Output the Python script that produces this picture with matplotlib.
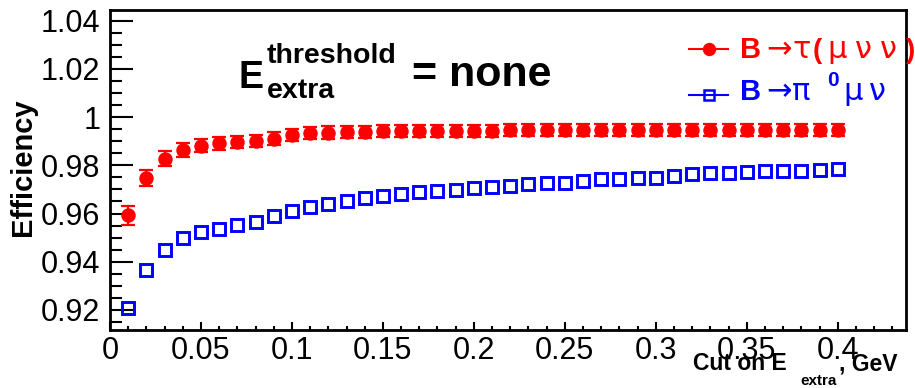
import matplotlib.pyplot as plt
from matplotlib.lines import Line2D
from matplotlib.ticker import MultipleLocator, FuncFormatter

plt.rcParams['font.family'] = ['Liberation Sans', 'DejaVu Sans']

W, H = 915, 388
RED = '#ff0000'
BLUE = '#0000ff'

# cut on E_extra (GeV)
cut = [0.01, 0.02, 0.03, 0.04, 0.05, 0.06, 0.07, 0.08, 0.09, 0.10,
       0.11, 0.12, 0.13, 0.14, 0.15, 0.16, 0.17, 0.18, 0.19, 0.20,
       0.21, 0.22, 0.23, 0.24, 0.25, 0.26, 0.27, 0.28, 0.29, 0.30,
       0.31, 0.32, 0.33, 0.34, 0.35, 0.36, 0.37, 0.38, 0.39, 0.40]

# B -> tau(mu nu nu)
eff_tau = [0.9593, 0.9749, 0.9828, 0.9864, 0.9881, 0.9892, 0.9897, 0.9901, 0.9911, 0.9925,
           0.9932, 0.9936, 0.9939, 0.9940, 0.9942, 0.9942, 0.9943, 0.9943, 0.9944, 0.9944,
           0.9944, 0.9945, 0.9945, 0.9945, 0.9946, 0.9946, 0.9946, 0.9946, 0.9947, 0.9947,
           0.9947, 0.9947, 0.9947, 0.9947, 0.9948, 0.9948, 0.9948, 0.9948, 0.9948, 0.9948]
err_tau = [0.0040, 0.0033, 0.0030, 0.0028, 0.0027, 0.0027, 0.0026, 0.0026, 0.0026, 0.0026,
           0.0025, 0.0025, 0.0025, 0.0025, 0.0025, 0.0025, 0.0025, 0.0025, 0.0025, 0.0025,
           0.0025, 0.0025, 0.0025, 0.0025, 0.0025, 0.0025, 0.0025, 0.0025, 0.0025, 0.0025,
           0.0025, 0.0025, 0.0025, 0.0025, 0.0025, 0.0025, 0.0025, 0.0025, 0.0025, 0.0025]

# B -> pi0 mu nu
eff_pi0 = [0.9207, 0.9367, 0.9450, 0.9499, 0.9522, 0.9536, 0.9554, 0.9564, 0.9589, 0.9610,
           0.9626, 0.9638, 0.9651, 0.9663, 0.9672, 0.9679, 0.9689, 0.9693, 0.9697, 0.9704,
           0.9711, 0.9716, 0.9721, 0.9728, 0.9728, 0.9735, 0.9742, 0.9745, 0.9749, 0.9749,
           0.9755, 0.9763, 0.9769, 0.9769, 0.9772, 0.9776, 0.9776, 0.9776, 0.9780, 0.9783]

fig = plt.figure(figsize=(W / 100, H / 100), dpi=100)
ax = fig.add_axes([110 / W, 1 - 330 / H, 796 / W, 320 / H])

ax.errorbar(cut, eff_tau, yerr=err_tau, fmt='o', color=RED, ms=9.4,
            elinewidth=1.6, capsize=5, capthick=1.6, zorder=3)
ax.plot(cut, eff_pi0, 's', ls='none', mfc='none', mec=BLUE, mew=2.1, ms=8.6, zorder=3)

ax.set_xlim(0, 0.4375)
ax.set_ylim(0.9117, 1.0444)

ax.xaxis.set_major_locator(MultipleLocator(0.05))
ax.xaxis.set_minor_locator(MultipleLocator(0.01))
ax.yaxis.set_major_locator(MultipleLocator(0.02))
ax.yaxis.set_minor_locator(MultipleLocator(0.005))
fmt = FuncFormatter(lambda v, p: '%g' % round(v, 4))
ax.xaxis.set_major_formatter(fmt)
ax.yaxis.set_major_formatter(fmt)

ax.tick_params(axis='both', which='both', direction='in', width=1.5, labelsize=22)
ax.tick_params(axis='y', which='major', length=16.5, pad=7)
ax.tick_params(axis='y', which='minor', length=8.6)
ax.tick_params(axis='x', which='major', length=5.8, pad=4)
ax.tick_params(axis='x', which='minor', length=2.9)
for s in ax.spines.values():
    s.set_linewidth(2)


def put(x, y, s, size, color='black', weight='bold', family=None, **kw):
    fig.text(x / W, 1 - y / H, s, fontsize=size, color=color, fontweight=weight,
             family=family or ['Liberation Sans', 'DejaVu Sans'],
             ha='left', va='baseline', **kw)


greek = ['DejaVu Sans']

# annotation
put(238, 88, 'E', 27)
put(267, 63, 'threshold', 20.5)
put(267, 98, 'extra', 20.5)
put(412, 86, '= none', 31)

# legend
fig.add_artist(Line2D([689 / W, 728 / W], [1 - 49 / H] * 2, color=RED, lw=1.5,
                      transform=fig.transFigure))
fig.add_artist(Line2D([709 / W], [1 - 49 / H], color=RED, marker='o', ms=8.6, ls='none',
                      transform=fig.transFigure))
put(740, 58, 'B', 21, RED)
put(766, 58, '\u2192', 22, RED, weight='normal', family=greek)
put(792, 58, '\u03c4', 22, RED, weight='normal', family=greek)
put(813, 58, '(', 20, RED)
put(827, 58, '\u03bc', 22, RED, weight='normal', family=greek)
put(855, 58, '\u03bd', 22, RED, weight='normal', family=greek)
put(880, 58, '\u03bd', 22, RED, weight='normal', family=greek)
put(906, 58, ')', 20, RED)

fig.add_artist(Line2D([689 / W, 728 / W], [1 - 95 / H] * 2, color=BLUE, lw=1.5,
                      transform=fig.transFigure))
fig.add_artist(Line2D([709 / W], [1 - 95 / H], color=BLUE, marker='s', ms=7.5, mew=1.8,
                      mfc='none', ls='none', transform=fig.transFigure))
put(740, 100, 'B', 21, BLUE)
put(766, 100, '\u2192', 22, BLUE, weight='normal', family=greek)
put(792, 100, '\u03c0', 22, BLUE, weight='normal', family=greek)
put(827, 86, '0', 15, BLUE)
put(843, 100, '\u03bc', 22, BLUE, weight='normal', family=greek)
put(869, 100, '\u03bd', 22, BLUE, weight='normal', family=greek)

# axis titles
put(693, 370, 'Cut on E', 16.5)
put(800, 385, 'extra', 11)
put(839, 370, ', GeV', 16.5)
fig.text(23 / W, 1 - 167 / H, 'Efficiency', rotation=90, fontsize=21, fontweight='bold',
         ha='center', va='center')

fig.savefig('out.png', dpi=100)
